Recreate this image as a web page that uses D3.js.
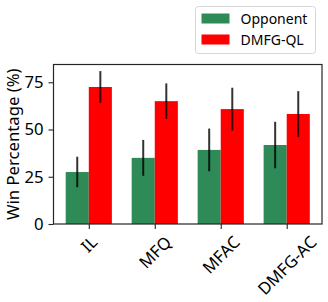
<!DOCTYPE html>
<html>
<head>
<meta charset="utf-8">
<script src="https://cdn.jsdelivr.net/npm/d3@7"></script>
<style>
  body { margin: 0; background: #fff; }
  text { font-family: "Noto Sans", "DejaVu Sans", sans-serif; fill: #000; }
</style>
</head>
<body>
<svg width="328" height="302"></svg>
<script>
var categories = ['IL', 'MFQ', 'MFAC', 'DMFG-AC'];
var seriesNames = ['Opponent', 'DMFG-QL'];
var opponent = [27.5, 35, 39.2, 41.8];
var dmfgql = [72.5, 65, 60.8, 58.2];
var opponentErr = [8.1, 9.5, 11.3, 12.3];
var dmfgqlErr = [8.4, 9.4, 11.3, 12.1];
var yTicks = [0, 25, 50, 75];
var colors = ['#2e8b57', '#ff0000'];

var svg = d3.select('svg');
var margin = { left: 53.5, right: 6, top: 64.5, bottom: 78 };
var width = 328 - margin.left - margin.right;
var height = 302 - margin.top - margin.bottom;
var barW = 0.35;
var fs = '16.7px';

var x = d3.scaleLinear().domain([-0.535, 3.535]).range([0, width]);
var y = d3.scaleLinear().domain([0, 84.4]).range([height, 0]);

var g = svg.append('g')
    .attr('transform', 'translate(' + margin.left + ',' + margin.top + ')');

var series = [opponent, dmfgql];
var errs = [opponentErr, dmfgqlErr];

series.forEach(function(vals, s) {
    var off = s === 0 ? -barW : 0;
    g.selectAll('rect.s' + s)
        .data(vals).enter()
        .append('rect')
        .attr('class', 's' + s)
        .attr('x', function(d, i) { return x(i + off); })
        .attr('width', function() { return x(barW) - x(0); })
        .attr('y', function(d) { return y(d); })
        .attr('height', function(d) { return y(0) - y(d); })
        .attr('fill', colors[s]);
});

series.forEach(function(vals, s) {
    var off = s === 0 ? -barW / 2 : barW / 2;
    g.selectAll('line.e' + s)
        .data(vals).enter()
        .append('line')
        .attr('class', 'e' + s)
        .attr('x1', function(d, i) { return x(i + off); })
        .attr('x2', function(d, i) { return x(i + off); })
        .attr('y1', function(d, i) { return y(d - errs[s][i]); })
        .attr('y2', function(d, i) { return y(d + errs[s][i]); })
        .attr('stroke', '#000')
        .attr('stroke-opacity', 0.8)
        .attr('stroke-width', 2);
});

// frame
g.append('rect')
    .attr('width', width).attr('height', height)
    .attr('fill', 'none').attr('stroke', '#262626').attr('stroke-width', 1.2);

var yAxis = g.append('g')
    .call(d3.axisLeft(y).tickValues(yTicks).tickSize(5).tickPadding(5));
yAxis.select('.domain').remove();
yAxis.selectAll('line').attr('stroke', '#262626').attr('stroke-width', 1.1);
yAxis.selectAll('text').style('font-size', fs).attr('fill', '#000');

var xAxis = g.append('g')
    .attr('transform', 'translate(0,' + height + ')')
    .call(d3.axisBottom(x).tickValues(d3.range(categories.length)).tickSize(5).tickFormat(''));
xAxis.select('.domain').remove();
xAxis.selectAll('line').attr('stroke', '#262626').attr('stroke-width', 1.1);

// rotated labels, bbox centred on tick
categories.forEach(function(c, i) {
    var t = g.append('text')
        .text(c)
        .style('font-size', fs)
        .attr('text-anchor', 'middle')
        .attr('dominant-baseline', 'central');
    var w = t.node().getComputedTextLength();
    var h = 16.7 * 0.9;
    var cy = height + 9.5 + (w + h) / (2 * Math.SQRT2);
    t.attr('transform', 'translate(' + x(i) + ',' + cy + ') rotate(-45)');
});

svg.append('text')
    .attr('transform', 'translate(18.5,' + (margin.top + height / 2) + ') rotate(-90)')
    .attr('text-anchor', 'middle')
    .style('font-size', fs)
    .text('Win Percentage (%)');

// legend
var leg = svg.append('g').attr('transform', 'translate(195.5,6.5)');
leg.append('rect')
    .attr('width', 120).attr('height', 47).attr('rx', 3)
    .attr('fill', '#fff').attr('stroke', '#d6d6d6').attr('stroke-width', 1);
seriesNames.forEach(function(n, i) {
    leg.append('rect')
        .attr('x', 6).attr('y', 7 + i * 21)
        .attr('width', 28).attr('height', 10)
        .attr('fill', colors[i]);
    leg.append('text')
        .attr('x', 45).attr('y', 12 + i * 21)
        .attr('dominant-baseline', 'central')
        .style('font-size', '14px')
        .text(n);
});
</script>
</body>
</html>
